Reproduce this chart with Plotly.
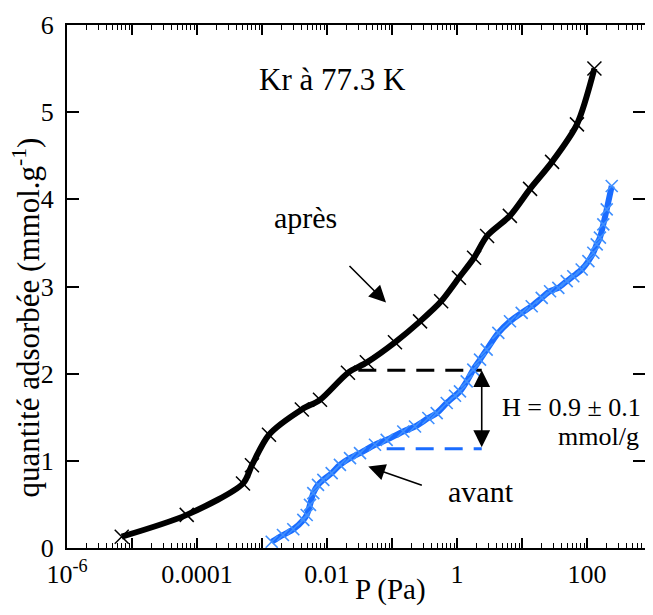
import math
import plotly.graph_objects as go

# ---- data ----
# "après" isotherm (pressure in Pa, adsorbed quantity in mmol/g)
p_apres = [6.95e-6, 6.95e-5, 5.1e-4, 7.0e-4, 1.28e-3, 4.1e-3, 7.8e-3, 0.021, 0.041,
           0.111, 0.27, 0.57, 1.07, 1.83, 2.9, 6.5, 13.3, 29, 70, 130]
q_apres = [0.13, 0.38, 0.74, 0.95, 1.30, 1.59, 1.70, 2.01, 2.13,
           2.36, 2.60, 2.83, 3.10, 3.33, 3.58, 3.81, 4.12, 4.43, 4.86, 5.50]

# "avant" isotherm
p_avant = [1.41e-3, 2.10e-3, 3.03e-3, 4.32e-3, 4.87e-3, 5.47e-3, 6.15e-3, 7.27e-3, 8.78e-3,
           0.0118, 0.0158, 0.0226, 0.0322, 0.0547, 0.0828, 0.149, 0.226, 0.362, 0.487,
           0.695, 0.931, 1.11, 1.41, 1.78, 2.26, 2.86, 4.32, 6.53, 9.89, 14.1, 20.1,
           27.0, 36.2, 48.7, 61.5, 82.8, 105, 125, 141, 158, 178, 201, 240]
q_avant = [0.072, 0.149, 0.215, 0.322, 0.379, 0.494, 0.629, 0.724, 0.782,
           0.859, 0.954, 1.031, 1.089, 1.184, 1.241, 1.337, 1.394, 1.491, 1.548,
           1.663, 1.747, 1.797, 1.911, 2.046, 2.161, 2.276, 2.468, 2.601, 2.698, 2.774, 2.870,
           2.946, 2.985, 3.061, 3.118, 3.195, 3.291, 3.387, 3.483, 3.560, 3.713, 3.885, 4.153]

# step height H between the two isotherms
h_top = 2.04
h_bottom = 1.14
h_x = 2.4
h_black_start = 0.0303
h_blue_start = 0.0828

x_major = [10.0 ** e for e in range(-6, 4)]
x_labels = ["10<sup>-6</sup>", "", "0.0001", "", "0.01", "", "1", "", "100", ""]
x_minor = [k * 10.0 ** e for e in range(-6, 3) for k in range(2, 10)]
y_ticks = [0, 1, 2, 3, 4, 5, 6]

FONT = "Liberation Serif"
BLACK = "#000000"
BLUE_LINE = "#1a6cff"
BLUE_MARK = "#3f8fff"

fig = go.Figure()

# dashed guide lines for H
fig.add_trace(go.Scatter(x=[h_black_start, h_x], y=[h_top, h_top], mode="lines",
                         line=dict(color=BLACK, width=3, dash="18px,11px"), showlegend=False))
fig.add_trace(go.Scatter(x=[h_blue_start, h_x], y=[h_bottom, h_bottom], mode="lines",
                         line=dict(color=BLUE_LINE, width=3, dash="18px,11px"), showlegend=False))

fig.add_trace(go.Scatter(x=p_avant, y=q_avant, mode="lines+markers", name="avant",
                         line=dict(color=BLUE_LINE, width=6, shape="spline", smoothing=0.8),
                         marker=dict(symbol="x-thin", size=12,
                                     line=dict(color=BLUE_MARK, width=1.6)),
                         showlegend=False))
fig.add_trace(go.Scatter(x=p_apres, y=q_apres, mode="lines+markers", name="après",
                         line=dict(color=BLACK, width=6, shape="spline", smoothing=0.8),
                         marker=dict(symbol="x-thin", size=14,
                                     line=dict(color=BLACK, width=1.5)),
                         showlegend=False))

L = math.log10
annotations = [
    dict(x=L(h_x), y=h_top, ax=L(h_x), ay=h_bottom, xref="x", yref="y", axref="x", ayref="y",
         text="", showarrow=True, arrowhead=2, arrowside="end+start", arrowsize=2.1,
         arrowwidth=1.6, arrowcolor=BLACK),
    dict(x=-1.092, y=2.816, ax=-1.677, ay=3.253, xref="x", yref="y", axref="x", ayref="y",
         text="", showarrow=True, arrowhead=2, arrowsize=2.1, arrowwidth=1.6, arrowcolor=BLACK),
    dict(x=-1.365, y=0.934, ax=-0.518, ay=0.713, xref="x", yref="y", axref="x", ayref="y",
         text="", showarrow=True, arrowhead=2, arrowsize=2.1, arrowwidth=1.6, arrowcolor=BLACK),
    dict(x=-1.908, y=5.38, xref="x", yref="y", text="Kr à 77.3 K", showarrow=False,
         font=dict(family=FONT, size=31, color=BLACK)),
    dict(x=-2.338, y=3.79, xref="x", yref="y", text="après", showarrow=False,
         font=dict(family=FONT, size=30, color=BLACK)),
    dict(x=0.369, y=0.65, xref="x", yref="y", text="avant", showarrow=False,
         font=dict(family=FONT, size=30, color=BLACK)),
    dict(x=2.862, y=1.61, xref="x", yref="y", text="H = 0.9 ± 0.1", showarrow=False,
         xanchor="right", font=dict(family=FONT, size=26, color=BLACK)),
    dict(x=2.83, y=1.276, xref="x", yref="y", text="mmol/g", showarrow=False,
         xanchor="right", font=dict(family=FONT, size=26, color=BLACK)),
    # axis titles
    dict(x=0.559, y=-0.1128, xref="paper", yref="paper", text="P (Pa)", showarrow=False,
         xanchor="center", yanchor="bottom", borderpad=0,
         font=dict(family=FONT, size=29, color=BLACK)),
    dict(x=-0.070, y=0.44, xref="paper", yref="paper",
         text="quantité adsorbée (mmol.g<sup>-1</sup>)", showarrow=False, textangle=-90,
         xanchor="center", yanchor="middle", borderpad=0,
         font=dict(family=FONT, size=31, color=BLACK)),
]

# the page body adds an 8 px margin around the figure
fig.update_layout(
    width=637, height=599,
    margin=dict(l=59, r=0, t=17, b=59),
    paper_bgcolor="white", plot_bgcolor="white",
    font=dict(family=FONT, size=26, color=BLACK),
    annotations=annotations,
    showlegend=False,
)
fig.update_xaxes(
    type="log", range=[-6, 2.892], automargin=False,
    tickmode="array", tickvals=x_major, ticktext=x_labels,
    ticks="inside", ticklen=10, tickwidth=1.5, tickcolor=BLACK,
    minor=dict(tickmode="array", tickvals=x_minor, ticks="inside", ticklen=5,
               tickwidth=1.2, tickcolor=BLACK, showgrid=False),
    showline=True, linewidth=2, linecolor=BLACK, mirror="allticks",
    showgrid=False, zeroline=False, ticklabelstandoff=2,
    tickfont=dict(family=FONT, size=26, color=BLACK),
)
fig.update_yaxes(
    range=[0, 6], tickmode="array", tickvals=y_ticks, automargin=False,
    ticks="inside", ticklen=12, tickwidth=1.5, tickcolor=BLACK,
    showline=True, linewidth=2, linecolor=BLACK, mirror="allticks",
    showgrid=False, zeroline=False, ticklabelstandoff=6,
    tickfont=dict(family=FONT, size=26, color=BLACK),
)

fig.write_html("out.html")
